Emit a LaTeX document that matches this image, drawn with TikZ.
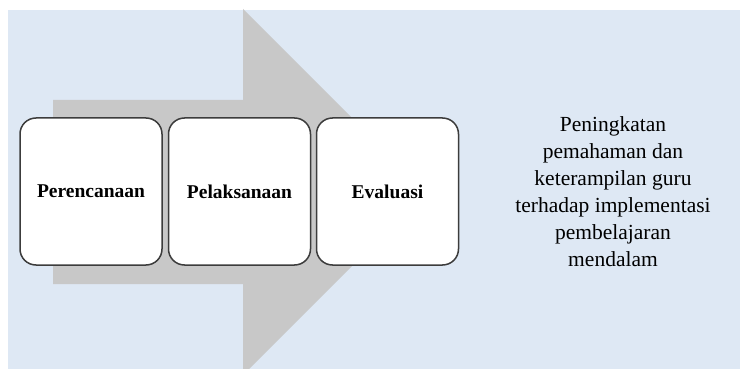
\documentclass[tikz,border=0pt]{standalone}
\usepackage{fontspec}
\setmainfont{Liberation Serif}
\newfontfamily\lserif{Liberation Serif}
\definecolor{bgblue}{RGB}{222,232,244}
\definecolor{arrowgray}{RGB}{200,200,200}
\definecolor{edgegray}{RGB}{60,60,60}
\tikzset{
  stagebox/.style={draw=edgegray, line width=1.5pt, fill=white, rounded corners=16pt,
    minimum width=142pt, minimum height=147pt, inner sep=0pt,
    font=\lserif\fontsize{19.5}{22}\selectfont\bfseries},
  outcome/.style={align=center, inner sep=0pt, font=\lserif\fontsize{21.5}{27}\selectfont}
}
\begin{document}
\begin{tikzpicture}[x=1pt,y=-1pt]
\useasboundingbox (0,0) rectangle (740,369);
\clip (0,0) rectangle (740,369);
\fill[bgblue] (8,10) rectangle (740,369);
\fill[arrowgray] (53,100) -- (243,100) -- (243,9) -- (426,192) -- (243,375) -- (243,284) -- (53,284) -- cycle;
\node[stagebox] (p1) at (91,191.5) {Perencanaan};
\node[stagebox] (p2) at (239.5,191.5) {Pelaksanaan};
\node[stagebox] (p3) at (387.5,191.5) {Evaluasi};
\node[outcome] (out) at (613,192) {Peningkatan\\pemahaman dan\\keterampilan guru\\terhadap implementasi\\pembelajaran\\mendalam};
\end{tikzpicture}
\end{document}
